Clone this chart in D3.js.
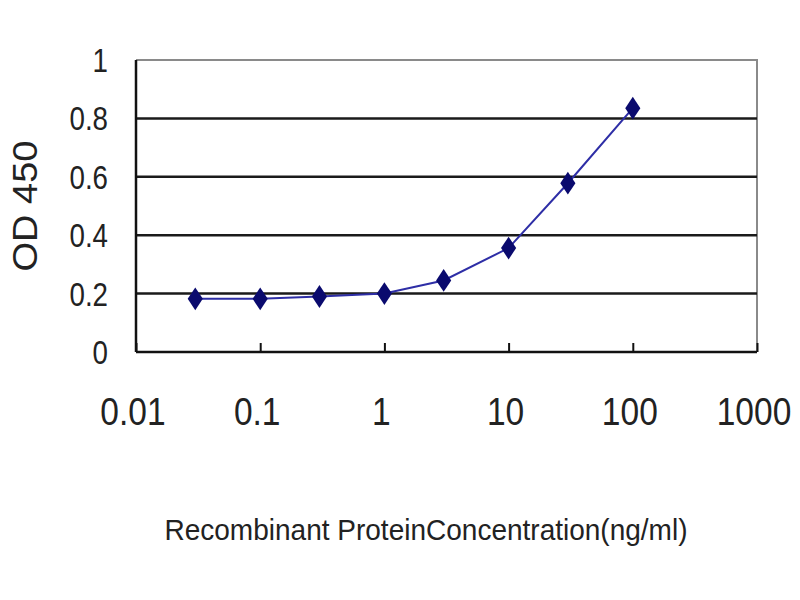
<!DOCTYPE html>
<html>
<head>
<meta charset="utf-8">
<script src="https://cdn.jsdelivr.net/npm/d3@7"></script>
<style>
  body { margin: 0; background: #fff; }
  svg { display: block; }
</style>
</head>
<body>
<div id="chart"></div>
<script>
// concentrations (ng/ml) and OD readings
const concentrations = [0.03, 0.1, 0.3, 1, 3, 10, 30, 100];
const odValues = [0.182, 0.182, 0.19, 0.2, 0.245, 0.356, 0.578, 0.835];
const xTickValues = [0.01, 0.1, 1, 10, 100, 1000];
const yTickValues = [0, 0.2, 0.4, 0.6, 0.8, 1];
const xTitle = "Recombinant ProteinConcentration(ng/ml)";
const yTitle = "OD 450";

const width = 800, height = 600;
const marginLeft = 136, marginRight = 43, marginTop = 60, marginBottom = 248;
const sans = "'Liberation Sans', Arial, sans-serif";

const svg = d3.select("#chart").append("svg")
    .attr("width", width)
    .attr("height", height);

const x = d3.scaleLog()
    .domain([0.01, 1000])
    .range([marginLeft, width - marginRight]);

const y = d3.scaleLinear()
    .domain([0, 1])
    .range([height - marginBottom, marginTop]);

// frame top/right in grey
svg.append("path")
    .attr("d", `M${x(0.01)},${y(1)}H${x(1000)}V${y(0)}`)
    .attr("fill", "none")
    .attr("stroke", "#8a8a8a")
    .attr("stroke-width", 2);

// horizontal gridlines
svg.append("g")
    .selectAll("line")
    .data(yTickValues.filter(d => d > 0 && d < 1))
    .join("line")
    .attr("x1", x(0.01))
    .attr("x2", x(1000))
    .attr("y1", d => y(d))
    .attr("y2", d => y(d))
    .attr("stroke", "#1a1a1a")
    .attr("stroke-width", 2.5);

// x axis with inward ticks
const xAxis = d3.axisTop(x)
    .tickValues(xTickValues)
    .tickSize(9)
    .tickFormat("");
const xAxisGroup = svg.append("g")
    .attr("transform", `translate(0, ${y(0)})`)
    .call(xAxis);
xAxisGroup.select(".domain").remove();
xAxisGroup.selectAll(".tick line").attr("stroke", "#111").attr("stroke-width", 2);

svg.append("line")
    .attr("x1", x(0.01)).attr("x2", x(1000))
    .attr("y1", y(0)).attr("y2", y(0))
    .attr("stroke", "#111").attr("stroke-width", 2.5);

svg.append("line")
    .attr("x1", x(0.01)).attr("x2", x(0.01))
    .attr("y1", y(0)).attr("y2", y(1))
    .attr("stroke", "#111").attr("stroke-width", 2.5);

// x tick labels (condensed look)
svg.append("g")
    .selectAll("text")
    .data(xTickValues)
    .join("text")
    .attr("transform", d => `translate(${x(d) - 3}, 425) scale(0.86, 1)`)
    .attr("text-anchor", "middle")
    .attr("font-family", sans)
    .attr("font-size", 39)
    .attr("fill", "#222")
    .text(d => d3.format("")(d));

// y tick labels
svg.append("g")
    .selectAll("text")
    .data(yTickValues)
    .join("text")
    .attr("transform", d => `translate(108, ${y(d) + 12}) scale(0.84, 1)`)
    .attr("text-anchor", "end")
    .attr("font-family", sans)
    .attr("font-size", 33)
    .attr("fill", "#222")
    .text(d => d3.format("")(d));

// axis titles
svg.append("text")
    .attr("x", 426)
    .attr("y", 540)
    .attr("text-anchor", "middle")
    .attr("font-family", sans)
    .attr("font-size", 30)
    .attr("fill", "#222")
    .attr("textLength", 523)
    .attr("lengthAdjust", "spacingAndGlyphs")
    .text(xTitle);

svg.append("text")
    .attr("transform", `translate(37, ${(y(0) + y(1)) / 2}) rotate(-90)`)
    .attr("text-anchor", "middle")
    .attr("font-family", sans)
    .attr("font-size", 35)
    .attr("fill", "#222")
    .attr("textLength", 131)
    .attr("lengthAdjust", "spacingAndGlyphs")
    .text(yTitle);

// data line
const points = concentrations.map((c, i) => [c, odValues[i]]);
const line = d3.line()
    .x(d => x(d[0]))
    .y(d => y(d[1]));

svg.append("path")
    .datum(points)
    .attr("d", line)
    .attr("fill", "none")
    .attr("stroke", "#2e2ea6")
    .attr("stroke-width", 2);

svg.append("g")
    .selectAll("path")
    .data(points)
    .join("path")
    .attr("transform", d => `translate(${x(d[0])}, ${y(d[1])}) scale(1.15, 1)`)
    .attr("d", d3.symbol(d3.symbolDiamond, 150))
    .attr("fill", "#0a0a6e");
</script>
</body>
</html>
